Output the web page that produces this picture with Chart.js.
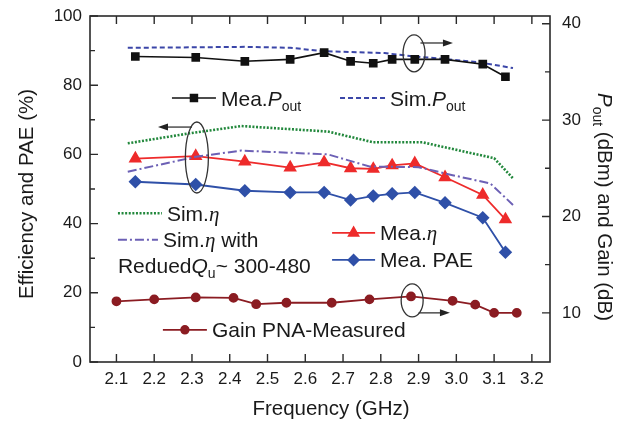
<!DOCTYPE html>
<html>
<head>
<meta charset="utf-8">
<script src="https://cdn.jsdelivr.net/npm/chart.js@4.4.1/dist/chart.umd.min.js"></script>
<style>
  body { margin: 0; background: #fff; }
</style>
</head>
<body>
<canvas id="grafico" width="628" height="426"></canvas>
<script>
// valores
const freqMea = [2.15, 2.31, 2.44, 2.56, 2.65, 2.72, 2.78, 2.83, 2.89, 2.97, 3.07, 3.13];
const meaPout = [36.6, 36.5, 36.1, 36.3, 37.0, 36.1, 35.9, 36.3, 36.3, 36.3, 35.8, 34.5];
const meaEta  = [58.8, 59.5, 57.9, 56.2, 57.7, 56.0, 55.8, 56.8, 57.4, 53.4, 48.3, 41.2];
const meaPae  = [52.1, 51.3, 49.5, 49.0, 49.0, 46.8, 48.0, 48.6, 49.0, 46.0, 41.7, 31.7];

const freqSimPout = [2.13, 2.30, 2.44, 2.56, 2.65, 2.81, 2.89, 2.99, 3.06, 3.15];
const simPout     = [37.5, 37.55, 37.6, 37.5, 37.15, 36.95, 36.6, 36.27, 36.0, 35.4];

const freqSimEta = [2.13, 2.30, 2.43, 2.66, 2.78, 2.91, 3.10, 3.15];
const simEta     = [63.2, 66.2, 68.2, 66.6, 63.5, 63.5, 58.9, 53.1];

const freqSimEtaQ = [2.13, 2.31, 2.43, 2.66, 2.77, 2.90, 2.99, 3.09, 3.15];
const simEtaQ     = [55.0, 59.3, 61.1, 60.0, 56.5, 56.3, 54.0, 51.6, 45.4];

const freqGain = [2.10, 2.20, 2.31, 2.41, 2.47, 2.55, 2.67, 2.77, 2.88, 2.99, 3.05, 3.10, 3.16];
const gain     = [11.2, 11.4, 11.6, 11.55, 10.9, 11.05, 11.05, 11.4, 11.7, 11.25, 10.85, 10.0, 10.0];

const xTicks = [2.1, 2.2, 2.3, 2.4, 2.5, 2.6, 2.7, 2.8, 2.9, 3.0, 3.1, 3.2];
const leftTicks = [0, 20, 40, 60, 80, 100];
const leftMinor = [10, 30, 50, 70, 90];
const rightTicks = [10, 20, 30, 40];
const rightMinor = [15, 25, 35];

const FONT = '"Liberation Sans", Arial, sans-serif';
const SERIF = '"Liberation Serif", "Times New Roman", serif';
const COR_TEXTO = '#1a1a1a';

const pts = (xs, ys) => xs.map((x, i) => ({ x: x, y: ys[i] }));

// texto com itálico / subscrito
function partesFonte(p, size) {
  const sub = p[1] === 's';
  const fs = sub ? Math.round(size * 0.68) : size;
  let fam = FONT, st = '';
  if (p[1] === 'i') st = 'italic ';
  if (p[1] === 'g') { st = 'italic '; fam = SERIF; }
  return { font: st + fs + 'px ' + fam, dy: sub ? size * 0.24 : 0 };
}
function larguraRich(ctx, parts, size) {
  let w = 0;
  parts.forEach(p => { ctx.font = partesFonte(p, size).font; w += ctx.measureText(p[0]).width; });
  return w;
}
function drawRich(ctx, x, y, parts, size) {
  ctx.textAlign = 'left';
  ctx.textBaseline = 'alphabetic';
  parts.forEach(p => {
    const f = partesFonte(p, size);
    ctx.font = f.font;
    ctx.fillText(p[0], x, y + f.dy);
    x += ctx.measureText(p[0]).width;
  });
}

// legendas soltas dentro do gráfico (posição em unidades de dados)
const legendas = [
  { ds: 0, f: 2.247, v: 76.3, len: 44, parts: [['Mea.'], ['P', 'i'], ['out', 's']] },
  { ds: 1, f: 2.692, v: 76.3, len: 45, parts: [['Sim.'], ['P', 'i'], ['out', 's']] },
  { ds: 2, f: 2.104, v: 43.0, len: 44, parts: [['Sim.'], ['\u03B7', 'g']] },
  { ds: 3, f: 2.104, v: 35.3, len: 40, parts: [['Sim.'], ['\u03B7', 'g'], [' with']] },
  { ds: null, f: 2.104, v: 27.9, len: 0, parts: [['Redued'], ['Q', 'i'], ['u', 's'], ['~ 300-480']] },
  { ds: 4, f: 2.671, v: 37.3, len: 43, parts: [['Mea.'], ['\u03B7', 'g']] },
  { ds: 5, f: 2.671, v: 29.5, len: 43, parts: [['Mea. PAE']] },
  { ds: 6, f: 2.223, v: 9.3, len: 44, parts: [['Gain PNA-Measured']] }
];

// elipses com setas
const elipses = [
  { f: 2.313, v: 59.1, rx: 11.5, ry: 35.5, seta: { v: 67.9, de: 2.30, ate: 2.21 } },
  { f: 2.888, v: 89.2, rx: 11, ry: 18.5, seta: { v: 92.2, de: 2.905, ate: 2.991 } },
  { f: 2.883, v: 17.8, rx: 11, ry: 16.5, seta: { v: 14.2, de: 2.90, ate: 2.983 } }
];

function ponto(ctx, ds, x, y) {
  if (!ds.pointRadius) return;
  ctx.save();
  ctx.fillStyle = ds.pointBackgroundColor || ds.borderColor;
  ctx.strokeStyle = ds.borderColor;
  Chart.helpers.drawPoint(ctx, { pointStyle: ds.pointStyle, radius: ds.pointRadius, rotation: 0, borderWidth: 1 }, x, y);
  ctx.restore();
}

const decoracao = {
  id: 'decoracao',
  afterDraw(chart) {
    const { ctx, chartArea: a, scales } = chart;
    const sx = scales.x, sy = scales.y, sr = scales.yR;
    ctx.save();

    // moldura e marcas internas
    ctx.strokeStyle = '#2a2a2a';
    ctx.lineWidth = 1.6;
    ctx.strokeRect(a.left, a.top, a.right - a.left, a.bottom - a.top);
    ctx.lineWidth = 1.4;
    ctx.beginPath();
    xTicks.forEach(v => {
      const px = sx.getPixelForValue(v);
      ctx.moveTo(px, a.bottom); ctx.lineTo(px, a.bottom - 8);
      ctx.moveTo(px, a.top); ctx.lineTo(px, a.top + 8);
    });
    leftTicks.forEach(v => { const py = sy.getPixelForValue(v); ctx.moveTo(a.left, py); ctx.lineTo(a.left + 8, py); });
    leftMinor.forEach(v => { const py = sy.getPixelForValue(v); ctx.moveTo(a.left, py); ctx.lineTo(a.left + 5, py); });
    rightTicks.forEach(v => { const py = sr.getPixelForValue(v); ctx.moveTo(a.right, py); ctx.lineTo(a.right - 8, py); });
    rightMinor.forEach(v => { const py = sr.getPixelForValue(v); ctx.moveTo(a.right, py); ctx.lineTo(a.right - 5, py); });
    ctx.stroke();

    // legendas
    ctx.fillStyle = COR_TEXTO;
    legendas.forEach(l => {
      const x0 = sx.getPixelForValue(l.f), y0 = sy.getPixelForValue(l.v);
      let tx = x0;
      if (l.ds !== null) {
        const ds = chart.data.datasets[l.ds];
        ctx.save();
        ctx.strokeStyle = ds.borderColor;
        ctx.lineWidth = ds.borderWidth;
        ctx.setLineDash(ds.borderDash || []);
        ctx.beginPath();
        ctx.moveTo(x0, y0); ctx.lineTo(x0 + l.len, y0);
        ctx.stroke();
        ctx.restore();
        ponto(ctx, ds, x0 + l.len / 2, y0);
        tx = x0 + l.len + 5;
      }
      ctx.fillStyle = COR_TEXTO;
      drawRich(ctx, tx, y0 + 7.5, l.parts, 21);
    });

    // elipses e setas
    ctx.strokeStyle = '#333';
    ctx.fillStyle = '#222';
    elipses.forEach(e => {
      const cx = sx.getPixelForValue(e.f), cy = sy.getPixelForValue(e.v);
      ctx.lineWidth = 1.3;
      ctx.beginPath();
      ctx.ellipse(cx, cy, e.rx, e.ry, 0, 0, Math.PI * 2);
      ctx.stroke();
      const ay = sy.getPixelForValue(e.seta.v);
      const x1 = sx.getPixelForValue(e.seta.de), x2 = sx.getPixelForValue(e.seta.ate);
      const dir = Math.sign(x2 - x1);
      ctx.beginPath();
      ctx.moveTo(x1, ay); ctx.lineTo(x2 - dir * 8, ay);
      ctx.stroke();
      ctx.beginPath();
      ctx.moveTo(x2, ay); ctx.lineTo(x2 - dir * 10, ay - 3.5); ctx.lineTo(x2 - dir * 10, ay + 3.5);
      ctx.closePath();
      ctx.fill();
    });

    // títulos dos eixos
    ctx.fillStyle = COR_TEXTO;
    const tamTitulo = 20.5;
    ctx.font = tamTitulo + 'px ' + FONT;
    ctx.textAlign = 'center';
    ctx.textBaseline = 'alphabetic';
    ctx.fillText('Frequency (GHz)', (a.left + a.right) / 2 + 11, 415);

    ctx.save();
    ctx.translate(33, (a.top + a.bottom) / 2 + 5);
    ctx.rotate(-Math.PI / 2);
    ctx.fillText('Efficiency and PAE (%)', 0, 0);
    ctx.restore();

    const tituloDir = [['P', 'i'], ['out', 's'], [' (dBm) and Gain (dB)']];
    ctx.save();
    ctx.translate(598, (a.top + a.bottom) / 2 + 18);
    ctx.rotate(Math.PI / 2);
    const w = larguraRich(ctx, tituloDir, tamTitulo);
    drawRich(ctx, -w / 2, 0, tituloDir, tamTitulo);
    ctx.restore();

    ctx.restore();
  }
};

const fonteTicks = { family: FONT, size: 17 };

// tamanho fixo das caixas dos eixos, sem folga extra dos rótulos
const fixaCaixa = (w, h) => s => {
  if (w !== null) s.width = w;
  if (h !== null) s.height = h;
  s.paddingTop = 0; s.paddingBottom = 0; s.paddingLeft = 0; s.paddingRight = 0;
};

new Chart(document.getElementById('grafico').getContext('2d'), {
  type: 'line',
  data: {
    datasets: [
      {
        label: 'Mea.Pout', data: pts(freqMea, meaPout), yAxisID: 'yR',
        borderColor: '#111', backgroundColor: '#111', borderWidth: 1.6,
        pointStyle: 'rect', pointRadius: 5, tension: 0
      },
      {
        label: 'Sim.Pout', data: pts(freqSimPout, simPout), yAxisID: 'yR',
        borderColor: '#3b46a8', borderWidth: 2, borderDash: [5, 3], pointRadius: 0, tension: 0
      },
      {
        label: 'Sim.eta', data: pts(freqSimEta, simEta), yAxisID: 'y',
        borderColor: '#22883c', borderWidth: 2.6, borderDash: [2, 1.6], pointRadius: 0, tension: 0
      },
      {
        label: 'Sim.eta with Qu', data: pts(freqSimEtaQ, simEtaQ), yAxisID: 'y',
        borderColor: '#6c60b5', borderWidth: 2, borderDash: [9, 3, 2, 3], pointRadius: 0, tension: 0
      },
      {
        label: 'Mea.eta', data: pts(freqMea, meaEta), yAxisID: 'y',
        borderColor: '#ee2b2b', backgroundColor: '#ee2b2b', borderWidth: 1.8,
        pointStyle: 'triangle', pointRadius: 6, tension: 0
      },
      {
        label: 'Mea. PAE', data: pts(freqMea, meaPae), yAxisID: 'y',
        borderColor: '#2f50a8', backgroundColor: '#2f50a8', borderWidth: 1.8,
        pointStyle: 'rectRot', pointRadius: 5.5, tension: 0
      },
      {
        label: 'Gain PNA-Measured', data: pts(freqGain, gain), yAxisID: 'yR',
        borderColor: '#8b1c22', backgroundColor: '#8b1c22', borderWidth: 1.8,
        pointStyle: 'circle', pointRadius: 4, tension: 0
      }
    ]
  },
  options: {
    responsive: false,
    animation: false,
    layout: { padding: { top: 16, right: 0, bottom: 0, left: 0 } },
    plugins: {
      legend: { display: false },
      tooltip: { enabled: false }
    },
    scales: {
      x: {
        type: 'linear', position: 'bottom', min: 2.03, max: 3.248,
        afterBuildTicks: s => { s.ticks = xTicks.map(v => ({ value: v })); },
        afterFit: fixaCaixa(null, 64),
        grid: { display: false, drawTicks: false },
        border: { display: false },
        ticks: {
          padding: 7, color: COR_TEXTO, font: fonteTicks, maxRotation: 0, autoSkip: false,
          callback: v => Number(v).toFixed(1)
        }
      },
      y: {
        position: 'left', min: 0, max: 100,
        afterBuildTicks: s => { s.ticks = leftTicks.map(v => ({ value: v })); },
        afterFit: fixaCaixa(90, null),
        grid: { display: false, drawTicks: false },
        border: { display: false },
        ticks: { padding: 8, color: COR_TEXTO, font: fonteTicks }
      },
      yR: {
        position: 'right', min: 4.9, max: 40.8,
        afterBuildTicks: s => { s.ticks = rightTicks.map(v => ({ value: v })); },
        afterFit: fixaCaixa(78, null),
        grid: { display: false, drawTicks: false },
        border: { display: false },
        ticks: { padding: 12, color: COR_TEXTO, font: fonteTicks }
      }
    }
  },
  plugins: [decoracao]
});
</script>
</body>
</html>
